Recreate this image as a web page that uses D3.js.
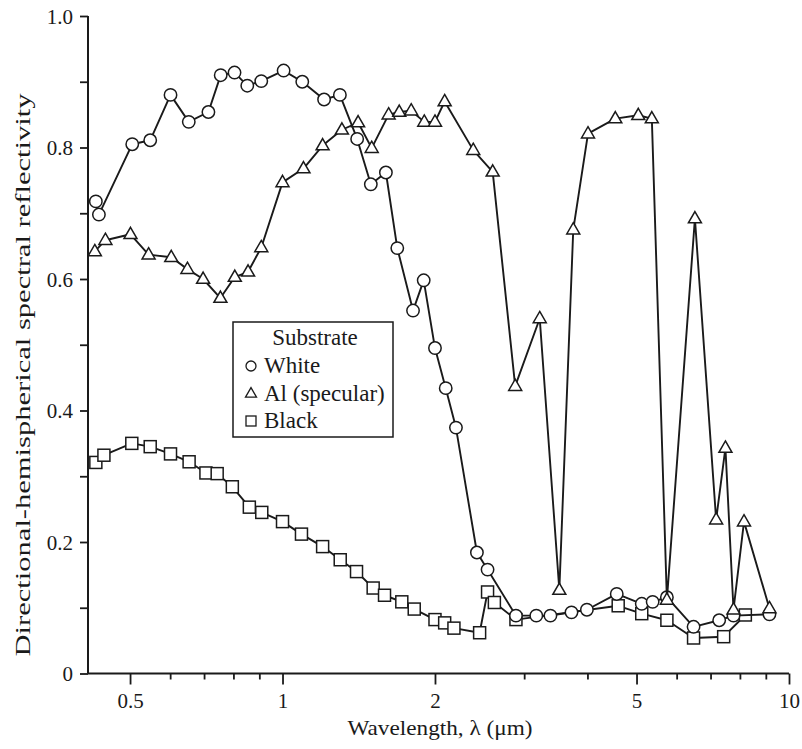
<!DOCTYPE html>
<html>
<head>
<meta charset="utf-8">
<script src="https://cdn.jsdelivr.net/npm/d3@7"></script>
<style>
  html, body { margin: 0; padding: 0; background: #fff; }
  svg { display: block; }
  text { font-family: "Liberation Serif", "DejaVu Serif", serif; fill: #1a1a1a; }
</style>
</head>
<body>
<script>
// ---- Data ----
const whiteX = [0.428, 0.434, 0.505, 0.548, 0.601, 0.653, 0.714, 0.755, 0.804, 0.852, 0.908, 1.005, 1.094, 1.208, 1.298, 1.404, 1.494, 1.60, 1.685, 1.81, 1.90, 2.0, 2.1, 2.2, 2.42, 2.54, 2.89, 3.17, 3.38, 3.72, 3.99, 4.57, 5.12, 5.38, 5.74, 6.48, 7.28, 7.77, 9.15];
const whiteY = [0.718, 0.698, 0.805, 0.811, 0.880, 0.839, 0.854, 0.910, 0.914, 0.894, 0.901, 0.917, 0.900, 0.873, 0.880, 0.813, 0.744, 0.762, 0.647, 0.552, 0.598, 0.495, 0.434, 0.374, 0.184, 0.158, 0.088, 0.088, 0.088, 0.093, 0.097, 0.121, 0.106, 0.109, 0.116, 0.071, 0.081, 0.088, 0.090];

const alX = [0.426, 0.447, 0.501, 0.544, 0.603, 0.649, 0.697, 0.754, 0.805, 0.855, 0.908, 1.0, 1.10, 1.2, 1.31, 1.41, 1.5, 1.62, 1.70, 1.795, 1.905, 2.0, 2.09, 2.38, 2.6, 2.88, 3.22, 3.52, 3.75, 4.01, 4.54, 5.04, 5.36, 5.74, 6.52, 7.18, 7.49, 7.77, 8.15, 9.15];
const alY = [0.642, 0.659, 0.668, 0.637, 0.633, 0.615, 0.600, 0.571, 0.603, 0.611, 0.648, 0.747, 0.768, 0.803, 0.827, 0.838, 0.799, 0.850, 0.854, 0.856, 0.839, 0.839, 0.870, 0.796, 0.763, 0.437, 0.540, 0.127, 0.675, 0.821, 0.844, 0.849, 0.844, 0.112, 0.692, 0.234, 0.343, 0.097, 0.231, 0.099];

const blackX = [0.428, 0.444, 0.504, 0.548, 0.601, 0.654, 0.706, 0.743, 0.796, 0.86, 0.91, 1.0, 1.09, 1.2, 1.30, 1.40, 1.51, 1.59, 1.72, 1.82, 2.0, 2.09, 2.18, 2.45, 2.54, 2.62, 2.89, 4.6, 5.12, 5.74, 6.48, 7.43, 8.2];
const blackY = [0.321, 0.332, 0.350, 0.345, 0.334, 0.322, 0.305, 0.304, 0.284, 0.253, 0.245, 0.231, 0.212, 0.193, 0.173, 0.155, 0.130, 0.119, 0.109, 0.098, 0.082, 0.077, 0.069, 0.062, 0.124, 0.108, 0.082, 0.103, 0.091, 0.081, 0.054, 0.056, 0.089];

const xMajorTicks = [0.5, 1, 2, 5, 10];
const xMinorTicks = [0.6, 0.7, 0.8, 0.9, 3, 4, 6, 7, 8, 9];
const yMajorTicks = [0, 0.2, 0.4, 0.6, 0.8, 1.0];
const yMinorTicks = [0.1, 0.3, 0.5, 0.7, 0.9];
const legendTitle = "Substrate";
const legendLabels = ["White", "Al (specular)", "Black"];
const xTitle = "Wavelength, \u03bb (\u03bcm)";
const yTitle = "Directional-hemispherical spectral reflectivity";

// ---- Layout ----
const W = 802, H = 749;
const plotL = 88, plotR = 789, plotT = 16, plotB = 673.5;
const ink = "#1a1a1a";

const svg = d3.select("body").append("svg").attr("width", W).attr("height", H);

const x = d3.scaleLog().domain([0.413, 10]).range([plotL, plotR]);
const y = d3.scaleLinear().domain([0, 1]).range([plotB, plotT]);

// axes
const xAxisMajor = d3.axisBottom(x).tickValues(xMajorTicks).tickSize(11).tickSizeOuter(0)
  .tickFormat(d => d3.format("~g")(d));
const gx = svg.append("g").attr("transform", `translate(0,${plotB})`).call(xAxisMajor);
const xAxisMinor = d3.axisBottom(x).tickValues(xMinorTicks).tickSize(6).tickSizeOuter(0).tickFormat("");
const gx2 = svg.append("g").attr("transform", `translate(0,${plotB})`).call(xAxisMinor);
[gx, gx2].forEach(g => {
  g.select(".domain").attr("stroke", ink).attr("stroke-width", 2);
  g.selectAll(".tick line").attr("stroke", ink).attr("stroke-width", 1.8);
});
gx.select(".domain").attr("d", `M${plotL},0H${plotR}`);
gx2.select(".domain").remove();
gx.selectAll(".tick text").attr("font-size", 21).attr("dy", 0).attr("y", 34)
  .attr("font-family", "Liberation Serif").attr("fill", ink);

const yAxisMajor = d3.axisLeft(y).tickValues(yMajorTicks).tickSize(8).tickSizeOuter(0)
  .tickFormat(d => d === 0 ? "0" : d3.format(".1f")(d));
const gy = svg.append("g").attr("transform", `translate(${plotL},0)`).call(yAxisMajor);
const yAxisMinor = d3.axisLeft(y).tickValues(yMinorTicks).tickSize(8).tickSizeOuter(0).tickFormat("");
const gy2 = svg.append("g").attr("transform", `translate(${plotL},0)`).call(yAxisMinor);
[gy, gy2].forEach(g => {
  g.select(".domain").attr("stroke", ink).attr("stroke-width", 2);
  g.selectAll(".tick line").attr("stroke", ink).attr("stroke-width", 1.8);
});
gy.select(".domain").attr("d", `M0,${plotT}V${plotB}`);
gy2.select(".domain").remove();
gy.selectAll(".tick text").attr("font-size", 21).attr("x", -15).attr("dy", "0.34em")
  .attr("font-family", "Liberation Serif").attr("fill", ink);

// titles
svg.append("text").attr("x", 440).attr("y", 735).attr("text-anchor", "middle")
  .attr("font-size", 22).attr("textLength", 185).attr("lengthAdjust", "spacingAndGlyphs")
  .text(xTitle);
svg.append("text").attr("transform", "translate(30,375) rotate(-90)").attr("text-anchor", "middle")
  .attr("font-size", 22).attr("textLength", 563).attr("lengthAdjust", "spacingAndGlyphs")
  .text(yTitle);

// series
const line = d3.line().x(d => x(d[0])).y(d => y(d[1]));
const triPath = s => { const h = s * 0.866; return `M0,${-h*0.62}L${s/2},${h*0.38}L${-s/2},${h*0.38}Z`; };

function drawSeries(xs, ys, shape) {
  const pts = xs.map((v, i) => [v, ys[i]]);
  const g = svg.append("g");
  g.append("path").datum(pts).attr("d", line).attr("fill", "none")
    .attr("stroke", ink).attr("stroke-width", 1.9).attr("stroke-linejoin", "round");
  const m = g.selectAll(".m").data(pts).enter().append("g")
    .attr("transform", d => `translate(${x(d[0])},${y(d[1])})`);
  if (shape === "circle") {
    m.append("circle").attr("r", 6.2).attr("fill", "#fff").attr("stroke", ink).attr("stroke-width", 1.5);
  } else if (shape === "square") {
    m.append("rect").attr("x", -6).attr("y", -6).attr("width", 12).attr("height", 12)
      .attr("fill", "#fff").attr("stroke", ink).attr("stroke-width", 1.5);
  } else {
    m.append("path").attr("d", triPath(13)).attr("fill", "#fff").attr("stroke", ink).attr("stroke-width", 1.5);
  }
}
drawSeries(blackX, blackY, "square");
drawSeries(whiteX, whiteY, "circle");
drawSeries(alX, alY, "triangle");

// legend
const lg = svg.append("g");
lg.append("rect").attr("x", 233).attr("y", 322).attr("width", 160).attr("height", 115)
  .attr("fill", "#fff").attr("stroke", ink).attr("stroke-width", 1.5);
lg.append("text").attr("x", 315).attr("y", 345).attr("text-anchor", "middle").attr("font-size", 23).text(legendTitle);
const shapes = ["circle", "triangle", "square"];
legendLabels.forEach((lab, i) => {
  const cy = 366 + i * 27.5;
  const sx = 251;
  if (shapes[i] === "circle") {
    lg.append("circle").attr("cx", sx).attr("cy", cy).attr("r", 5).attr("fill", "#fff").attr("stroke", ink).attr("stroke-width", 1.3);
  } else if (shapes[i] === "square") {
    lg.append("rect").attr("x", sx - 5).attr("y", cy - 5).attr("width", 10).attr("height", 10)
      .attr("fill", "#fff").attr("stroke", ink).attr("stroke-width", 1.3);
  } else {
    lg.append("path").attr("transform", `translate(${sx},${cy})`).attr("d", triPath(11))
      .attr("fill", "#fff").attr("stroke", ink).attr("stroke-width", 1.3);
  }
  lg.append("text").attr("x", 264).attr("y", cy + 7).attr("font-size", 23).text(lab);
});
</script>
</body>
</html>
